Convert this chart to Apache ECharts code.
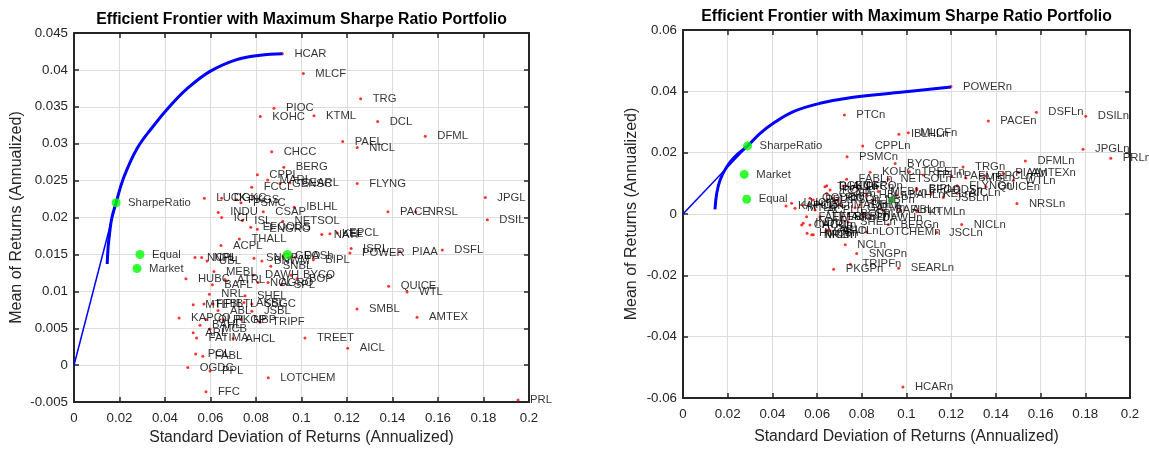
<!DOCTYPE html>
<html><head><meta charset="utf-8">
<script src="https://cdn.jsdelivr.net/npm/echarts@6/dist/echarts.min.js"></script>
<style>html,body{margin:0;padding:0;background:#fff}#c{width:1149px;height:451px}</style>
</head><body><div id="c"></div>
<script>
// ---------- DATA ----------
const titleText = 'Efficient Frontier with Maximum Sharpe Ratio Portfolio';
const xTitle = 'Standard Deviation of Returns (Annualized)';
const yTitle = 'Mean of Returns (Annualized)';

const leftAssets = [
['HCAR',0.0916,0.0422],['MLCF',0.1008,0.0395],['TRG',0.1260,0.0361],['PIOC',0.0879,0.0348],
['KOHC',0.0819,0.0337],['KTML',0.1055,0.0338],['DCL',0.1335,0.0330],['DFML',0.1544,0.0310],
['PAEL',0.1181,0.0303],['NICL',0.1245,0.0295],['CHCC',0.0869,0.0289],['BERG',0.0922,0.0268],
['CPPL',0.0806,0.0258],['MARI',0.0851,0.0251],['FCCL',0.0781,0.0241],['GENSC',0.0905,0.0246],
['SEARL',0.0949,0.0247],['FLYNG',0.1245,0.0246],['JPGL',0.1808,0.0227],['DSIL',0.1817,0.0197],
['PACE',0.1380,0.0208],['NRSL',0.1502,0.0208],['IBLHL',0.0968,0.0214],['CSAP',0.0832,0.0208],
['NETSOL',0.0917,0.0195],['LUCK',0.0573,0.0226],['DGKC',0.0649,0.0226],['PKGS',0.0712,0.0224],
['PSMC',0.0734,0.0220],['INDU',0.0634,0.0207],['ICI',0.0649,0.0200],['ISL',0.0740,0.0196],
['EFOODS',0.0777,0.0187],['ENGRO',0.0806,0.0184],['NATF',0.1089,0.0177],['KEL',0.1125,0.0178],
['EPCL',0.1157,0.0179],['ISRL',0.1218,0.0158],['POWER',0.1213,0.0152],['PIAA',0.1433,0.0154],
['DSFL',0.1619,0.0156],['THALL',0.0727,0.0171],['ACPL',0.0646,0.0162],['QUICE',0.1383,0.0107],
['WTL',0.1464,0.0099],['SMBL',0.1244,0.0076],['AMTEX',0.1508,0.0065],['AICL',0.1203,0.0023],
['PRL',0.1952,-0.0047],['TREET',0.1015,0.0037],['LOTCHEM',0.0854,-0.0017],['FFC',0.0580,-0.0036],
['OGDC',0.0500,-0.0003],['PPL',0.0598,-0.0008],['POL',0.0535,0.0015],['FABL',0.0566,0.0012],
['FATIMA',0.0539,0.0037],['AHCL',0.0700,0.0036],['ARL',0.0524,0.0044],['BAHL',0.0554,0.0054],
['MCB',0.0598,0.0049],['KAPCO',0.0462,0.0064],['TRIPF',0.0818,0.0058],['NBP',0.0734,0.0062],
['OLPL',0.0580,0.0062],['PKGP',0.0656,0.0062],['ABL',0.0633,0.0074],['JSBL',0.0782,0.0073],
['MTL',0.0524,0.0082],['FFBL',0.0571,0.0083],['PIBTL',0.0611,0.0083],['AKBL',0.0747,0.0085],
['SSGC',0.0782,0.0083],['SHEL',0.0752,0.0094],['NRL',0.0595,0.0096],['BAFL',0.0608,0.0109],
['HUBC',0.0492,0.0117],['ATRL',0.0664,0.0116],['MEBL',0.0615,0.0127],['DAWH',0.0787,0.0122],
['NCL',0.0809,0.0112],['AGRO',0.0853,0.0112],['SPL',0.0913,0.0109],['BYCO',0.0954,0.0122],
['BOP',0.0980,0.0117],['BIPL',0.1052,0.0143],['SNBL',0.0865,0.0134],['SNGP',0.0791,0.0145],
['GEO',0.0919,0.0148],['DASh',0.0958,0.0148],['NCPL',0.0532,0.0146],['NPL',0.0561,0.0146],
['UBL',0.0585,0.0141],['BNWM',0.0826,0.0141]
];
const leftFrontier = [[0.0146,0.0137],[0.0150,0.0160],[0.0157,0.0180],[0.0166,0.0199],[0.0185,0.0220],
[0.0217,0.0253],[0.0276,0.0293],[0.0349,0.0324],[0.0422,0.0351],[0.0495,0.0374],[0.0598,0.0398],
[0.0715,0.0414],[0.0818,0.0420],[0.0916,0.0422]];
const leftCML = [[0,0],[0.0185,0.0220]];
const leftSpecial = [['SharpeRatio',0.0185,0.0220],['Equal',0.0290,0.0150],['Market',0.0277,0.0131]];
const leftGreenAsset = [[0.0938,0.0150]];

const rightAssets = [
['POWERn',0.1199,0.0416],
['PTCn',0.0722,0.0323],['CPPLn',0.0804,0.0222],['PSMCn',0.0734,0.0187],['BYCOn',0.0949,0.0165],
['MLCFn',0.1008,0.0265],['IBLHLn',0.0966,0.0260],['PACEn',0.1366,0.0303],['DSFLn',0.1581,0.0332],
['DSILn',0.1802,0.0319],['JPGLn',0.1790,0.0211],['PRLn',0.1914,0.0182],['DFMLn',0.1532,0.0173],
['AMTEXn',0.1502,0.0135],['PIAAn',0.1433,0.0133],['WTLn',0.1478,0.0109],['QUICEn',0.1356,0.0089],
['FLYNGn',0.1227,0.0092],['NRSLn',0.1494,0.0034],['TRGn',0.1253,0.0153],['TREETn',0.1013,0.0138],
['PAELn',0.1202,0.0124],['SMBLn',0.1266,0.0117],['EPCLn',0.1351,0.0124],['TPLn',0.1075,0.0127],
['KOHCn',0.0837,0.0136],['NETSOLn',0.0919,0.0113],['FABLn',0.0732,0.0113],['BIPLn',0.1046,0.0083],
['KELn',0.1110,0.0065],['JSBLn',0.1165,0.0054],['AICLn',0.1226,0.0068],['KTMLn',0.1046,0.0007],
['NICLn',0.1247,-0.0034],['JSCLn',0.1136,-0.0060],['LOTCHEMn',0.0823,-0.0059],['BERGn',0.0919,-0.0034],
['SHELn',0.0738,-0.0025],['AHCLn',0.0658,-0.0055],['HMCBn',0.0555,-0.0063],['MCBn',0.0583,-0.0068],
['NCLn',0.0726,-0.0100],['SNGPn',0.0777,-0.0129],['TRIPFn',0.0749,-0.0164],['SEARLn',0.0965,-0.0177],
['PKGPn',0.0674,-0.0180],['HCARn',0.0984,-0.0564],['KAPCOn',0.0461,0.0026],['DGKCn',0.0643,0.0092],
['ENGROn',0.0716,0.0091],['LUCKn',0.0486,0.0035],['MTLn',0.0501,0.0019],['HUBCn',0.0538,0.0029],
['OGDCn',0.0568,0.0051],['PPLn',0.0583,0.0046],['POLn',0.0658,0.0078],['PSOn',0.0695,0.0046],
['MARIn',0.0710,0.0029],['FFCn',0.0765,0.0089],['UBLn',0.0792,0.0029],['HBLn',0.0822,0.0062],
['NBPn',0.0851,0.0046],['MEBLn',0.0874,0.0073],['BAFLn',0.0896,0.0013],['BAHLn',0.0956,0.0062],
['ABLn',0.0971,0.0013],['EFOODSn',0.1046,0.0078],['INDUn',0.0538,-0.0030],['ATRLn',0.0568,-0.0036],
['NRLn',0.0576,-0.0068],['ARLn',0.0643,-0.0052],['FATIMAn',0.0553,-0.0009],['EFERTn',0.0613,-0.0009],
['SNBLn',0.0710,-0.0009],['BOPn',0.0740,0.0002],['SPLn',0.0807,0.0002],['DAWHn',0.0837,-0.0014],
['CHCCn',0.0531,-0.0036],['ACPLn',0.0591,0.0013],['THALLn',0.0635,0.0089],['CSAPn',0.0643,0.0067],
['PIOCn',0.0672,0.0051],['GATMn',0.0770,0.0020]
];
const rightFrontier = [[0.0143,0.0015],[0.0151,0.0068],[0.0166,0.0111],[0.0196,0.0154],[0.0233,0.0187],
[0.0289,0.0222],[0.0345,0.0263],[0.0404,0.0296],[0.0494,0.0334],[0.0613,0.0361],[0.0762,0.0381],
[0.0963,0.0396],[0.1199,0.0414]];
const rightCML = [[0,0],[0.0289,0.0222]];
const rightSpecial = [['SharpeRatio',0.0289,0.0222],['Market',0.0274,0.0129],['Equal',0.0285,0.0048]];
const rightGreenAsset = [[0.0934,0.0046]];

const xTicks = {min:0, max:0.2, interval:0.02};
const leftYTicks = {min:-0.005, max:0.045, interval:0.005};
const rightYTicks = {min:-0.06, max:0.06, interval:0.02};

// ---------- CHART ----------
const FONT = '"Liberation Sans", Arial, Helvetica, sans-serif';
const AX = '#262626';
const fmt = v => String(+(+v).toFixed(4));
function mkX(grid, pos, ticks, primary, gap){
  return {type:'value', gridIndex:grid, position:pos, min:ticks.min, max:ticks.max, interval:ticks.interval,
    name: primary? xTitle : '', nameLocation:'middle', nameGap:gap,
    nameTextStyle:{fontFamily:FONT,fontSize:15.8,color:AX},
    axisLine:{show:true,onZero:false,lineStyle:{color:AX,width:2}},
    axisTick:{show:true,inside:true,length:5,lineStyle:{color:AX,width:1.5}},
    axisLabel:{show:primary,margin:10,fontFamily:FONT,fontSize:13.3,color:AX,formatter:fmt},
    splitLine:{show:primary,lineStyle:{color:'#dedede',width:1}}};
}
function mkY(grid, pos, ticks, primary, gap){
  return {type:'value', gridIndex:grid, position:pos, min:ticks.min, max:ticks.max, interval:ticks.interval,
    name: primary? yTitle : '', nameLocation:'middle', nameGap:gap,
    nameTextStyle:{fontFamily:FONT,fontSize:16,color:AX},
    axisLine:{show:true,onZero:false,lineStyle:{color:AX,width:2}},
    axisTick:{show:true,inside:true,length:5,lineStyle:{color:AX,width:1.5}},
    axisLabel:{show:primary,margin:6,fontFamily:FONT,fontSize:13.3,color:AX,formatter:fmt},
    splitLine:{show:primary,lineStyle:{color:'#dedede',width:1}}};
}
const lbl = (d) => ({show:true,position:'right',distance:d,formatter:'{b}',
  fontFamily:FONT,fontSize:11.3,color:'#000'});
const toItems = arr => arr.map(a => ({name:a[0], value:[a[1],a[2]]}));

function seriesFor(xi, yi, assets, frontier, cml, special, greenAsset, greenColor, greenSize){
  return [
    {type:'scatter', xAxisIndex:xi, yAxisIndex:yi, data:toItems(assets), symbol:'circle', symbolSize:3,
     itemStyle:{color:'#ff0000'}, label:lbl(10.5), silent:true, z:2},
    {type:'line', xAxisIndex:xi, yAxisIndex:yi, data:cml, showSymbol:false, symbol:'none',
     lineStyle:{color:'#0000ff',width:1.5}, silent:true, z:3},
    {type:'line', xAxisIndex:xi, yAxisIndex:yi, data:frontier, smooth:0.4, showSymbol:false, symbol:'none',
     lineStyle:{color:'#0000ff',width:3}, silent:true, z:3},
    {type:'scatter', xAxisIndex:xi, yAxisIndex:yi, data:greenAsset, symbol:'circle', symbolSize:greenSize,
     itemStyle:{color:greenColor}, silent:true, z:4},
    {type:'scatter', xAxisIndex:xi, yAxisIndex:yi, data:toItems(special), symbol:'circle', symbolSize:9,
     itemStyle:{color:'#00ff00'}, label:lbl(7.5), silent:true, z:5}
  ];
}

const chart = echarts.init(document.getElementById('c'), null, {renderer:'canvas'});
chart.setOption({
  animation:false,
  backgroundColor:'#fff',
  grid:[{left:74,top:33,width:455,height:372},{left:683,top:30,width:447,height:368}],
  xAxis:[mkX(0,'bottom',xTicks,true,27), mkX(0,'top',xTicks,false,0),
         mkX(1,'bottom',xTicks,true,31), mkX(1,'top',xTicks,false,0)],
  yAxis:[mkY(0,'left',leftYTicks,true,49), mkY(0,'right',leftYTicks,false,0),
         mkY(1,'left',rightYTicks,true,43), mkY(1,'right',rightYTicks,false,0)],
  graphic:[
    {type:'text', x:301.5, y:20, style:{text:titleText, textAlign:'center', textVerticalAlign:'middle',
      font:'bold 15.8px '+FONT, fill:'#000'}},
    {type:'text', x:906.5, y:17, style:{text:titleText, textAlign:'center', textVerticalAlign:'middle',
      font:'bold 15.8px '+FONT, fill:'#000'}}
  ],
  series:[].concat(
    seriesFor(0,0,leftAssets,leftFrontier,leftCML,leftSpecial,leftGreenAsset,'#00ff00',9),
    seriesFor(2,2,rightAssets,rightFrontier,rightCML,rightSpecial,rightGreenAsset,'#1f8f1f',7)
  )
});
</script></body></html>
